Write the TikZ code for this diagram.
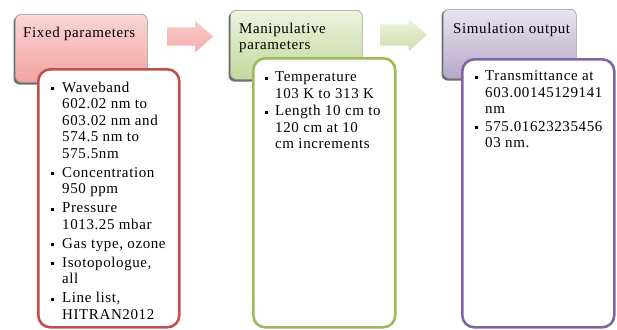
\documentclass[tikz,border=0pt]{standalone}
\usepackage{fontspec}
\setmainfont{Liberation Serif}[LetterSpace=4]
\usetikzlibrary{shapes.arrows}
\definecolor{pinkT}{HTML}{FAD6D5}
\definecolor{pinkB}{HTML}{F2A2A1}
\definecolor{greenT}{HTML}{EDF3DF}
\definecolor{greenB}{HTML}{C4D79D}
\definecolor{purpT}{HTML}{E9E4EF}
\definecolor{purpB}{HTML}{B6A8CB}
\definecolor{redline}{HTML}{C0504D}
\definecolor{greenline}{HTML}{9BBB59}
\definecolor{purpline}{HTML}{8064A2}
\definecolor{shadowc}{HTML}{6E6E6E}
\newcommand\mybul[1]{\llap{\raisebox{1.8bp}{\rule{3bp}{3bp}}\hspace{#1}}}
\begin{document}
\begin{tikzpicture}[x=1bp,y=-1bp,
  txt/.style={font=\fontsize{15bp}{16.5bp}\selectfont, align=left, inner sep=0pt, anchor=north west},
  topbox/.style={draw=black!40, line width=0.6bp, rounded corners=6bp, anchor=north west, inner sep=0pt},
  lowbox/.style={fill=white, line width=2.6bp, rounded corners=12bp, anchor=north west, inner sep=0pt},
  blockarrow/.style={single arrow, inner xsep=0pt, draw=none, single arrow tip angle=82, single arrow head indent=0pt, text height=0pt, text depth=0pt}
]
\useasboundingbox (0,0) rectangle (617,329);
% shadows of the top boxes
\fill[shadowc, rounded corners=6bp] (13.5,16) rectangle (145,84.5);
\fill[shadowc, rounded corners=6bp] (228.5,12) rectangle (361,81.5);
\fill[shadowc, rounded corners=6bp] (441.5,10) rectangle (575,80.5);
% top boxes
\node[topbox, top color=pinkT, bottom color=pinkB, minimum width=132bp, minimum height=68bp] (fixT) at (15,14) {};
\node[topbox, top color=greenT, bottom color=greenB, minimum width=132bp, minimum height=69bp] (manT) at (230,10) {};
\node[topbox, top color=purpT, bottom color=purpB, minimum width=133bp, minimum height=69bp] (simT) at (443,9) {};
% arrows
\node[blockarrow, top color=pinkT!80!pinkB, bottom color=pinkB!80!pinkT, inner ysep=9bp, single arrow head extend=6.5bp, minimum height=46bp, anchor=tail] (ar1) at (167,36.5) {};
\node[blockarrow, top color=greenT, bottom color=greenB!75!greenT, inner ysep=10.5bp, single arrow head extend=5.5bp, minimum height=47bp, anchor=tail] (ar2) at (380,35) {};
% titles
\node[txt] (fixTitle) at (23,26.5) {Fixed parameters};
\node[txt] (manTitle) at (239,22.5) {Manipulative\\parameters};
\node[txt] (simTitle) at (453,22.5) {Simulation output};
% lower boxes
\node[lowbox, draw=redline, minimum width=141bp, minimum height=258bp] (fixB) at (37,68) {};
\node[lowbox, draw=greenline, minimum width=142bp, minimum height=269bp] (manB) at (252,57) {};
\node[lowbox, draw=purpline, minimum width=152bp, minimum height=268bp] (simB) at (461,58) {};
% texts
\node[txt] (fixList) at (62,81.5) {\mybul{8bp}Waveband\\602.02 nm to\\603.02 nm and\\574.5 nm to\\575.5nm\\[2.5bp]
\mybul{8bp}Concentration\\950 ppm\\[2.5bp]
\mybul{8bp}Pressure\\1013.25 mbar\\[2.5bp]
\mybul{8bp}Gas type, ozone\\[2.5bp]
\mybul{8bp}Isotopologue,\\all\\[2.5bp]
\mybul{8bp}Line list,\\HITRAN2012};
\node[txt] (manList) at (275,71.5) {\mybul{7bp}Temperature\\103 K to 313 K\\[1bp]
\mybul{7bp}Length 10 cm to\\120 cm at 10\\cm increments};
\node[txt] (simList) at (485,70.5) {\mybul{7bp}Transmittance at\\603.00145129141\\nm\\[1bp]
\mybul{7bp}575.01623235456\\03 nm.};
\end{tikzpicture}
\end{document}
